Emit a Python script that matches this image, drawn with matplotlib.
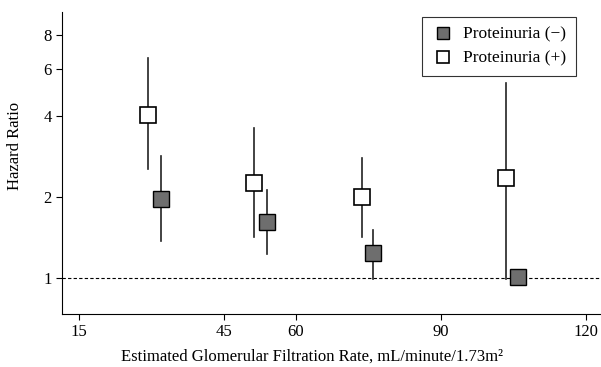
import matplotlib
matplotlib.use("Agg")
import matplotlib.pyplot as plt
from matplotlib.ticker import FixedLocator, NullLocator

plt.rcParams['font.family'] = ['Liberation Serif', 'DejaVu Serif']

# proteinuria (-)
neg_x = [32.0, 54.0, 76.0, 106.1]
neg_hr = [1.97, 1.62, 1.24, 1.01]
neg_lo = [1.37, 1.23, 0.99, 0.99]
neg_hi = [2.84, 2.12, 1.51, 1.03]

# proteinuria (+)
pos_x = [29.3, 51.3, 73.7, 103.6]
pos_hr = [4.05, 2.25, 2.0, 2.35]
pos_lo = [2.54, 1.42, 1.42, 0.99]
pos_hi = [6.57, 3.61, 2.79, 5.3]

xticks = [15, 45, 60, 90, 120]
yticks = [1, 2, 4, 6, 8]

fig = plt.figure(figsize=(6.01, 3.67), dpi=100)
ax = fig.add_axes([62 / 601, 1 - 314 / 367, 538 / 601, 302 / 367])

ax.axhline(1, color="black", lw=0.8, ls=(0, (3, 2)), zorder=1)

for x, lo, hi in zip(pos_x, pos_lo, pos_hi):
    ax.plot([x, x], [lo, hi], color="#222222", lw=1.2, zorder=2)
for x, lo, hi in zip(neg_x, neg_lo, neg_hi):
    ax.plot([x, x], [lo, hi], color="#222222", lw=1.2, zorder=2)

ax.plot(neg_x, neg_hr, ls="none", marker="s", ms=11.5, mfc="#6e6e6e",
        mec="black", mew=1.0, zorder=3, label="Proteinuria (\u2212)")
ax.plot(pos_x, pos_hr, ls="none", marker="s", ms=11.5, mfc="white",
        mec="black", mew=1.2, zorder=3, label="Proteinuria (+)")

ax.set_yscale("log")
ax.set_ylim(0.735, 9.74)
ax.set_xlim(11.5, 123)
ax.yaxis.set_major_locator(FixedLocator(yticks))
ax.yaxis.set_minor_locator(NullLocator())
ax.set_yticklabels([str(v) for v in yticks])
ax.set_xticks(xticks)

ax.spines["top"].set_visible(False)
ax.spines["right"].set_visible(False)
ax.tick_params(direction="out", length=4, width=0.8, labelsize=12)

ax.set_ylabel("Hazard Ratio", fontsize=12)
ax.yaxis.set_label_coords(-0.072, 0.556)
ax.set_xlabel("Estimated Glomerular Filtration Rate, mL/minute/1.73m\u00b2",
              fontsize=12, va="center")
ax.xaxis.set_label_coords(0.465, -0.14)

leg = ax.legend(loc="upper right", bbox_to_anchor=(0.955, 0.983), fontsize=12.5,
                frameon=True, fancybox=False, edgecolor="black",
                handlelength=1.3, handletextpad=0.5, borderpad=0.55,
                labelspacing=0.45, markerscale=0.75, borderaxespad=0)
leg.get_frame().set_linewidth(0.8)

fig.savefig("out.png", dpi=100)
